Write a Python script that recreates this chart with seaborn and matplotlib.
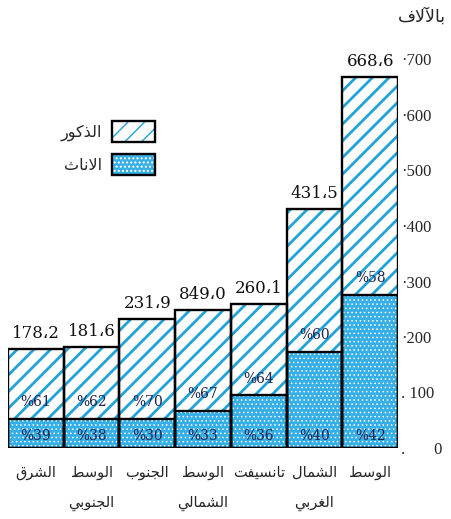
import numpy as np
import pandas as pd
import matplotlib
matplotlib.use("Agg")
import matplotlib.pyplot as plt
import seaborn as sns
from matplotlib.patches import Patch
from matplotlib.legend_handler import HandlerTuple

# ---------------- data ----------------
regions = ["الشرق", "الوسط\nالجنوبي", "الجنوب", "الوسط\nالشمالي", "تانسيفت", "الشمال\nالغربي", "الوسط"]
totals = [178.2, 181.6, 231.9, 249.0, 260.1, 431.5, 668.6]
total_labels = ["178،2", "181،6", "231،9", "849،0", "260،1", "431،5", "668،6"]
females = [52, 52, 52, 67, 95, 173, 276]
male_pct = ["%61", "%62", "%70", "%67", "%64", "%60", "%58"]
female_pct = ["%39", "%38", "%30", "%33", "%36", "%40", "%42"]
yticks = [0, 100, 200, 300, 400, 500, 600, 700]
ytick_labels = [".       0", ". 100", "·200", "·300", "·400", "·500", "·600", "·700"]
legend_labels = ["الذكور", "الاناث"]
unit_label = "بالآلاف"

# ---------------- minimal Arabic shaping (presentation forms) ----------------
FORMS = {
    "\u0627": ("\uFE8D", "\uFE8E", None, None),
    "\u0622": ("\uFE81", "\uFE82", None, None),
    "\u0628": ("\uFE8F", "\uFE90", "\uFE91", "\uFE92"),
    "\u062A": ("\uFE95", "\uFE96", "\uFE97", "\uFE98"),
    "\u062B": ("\uFE99", "\uFE9A", "\uFE9B", "\uFE9C"),
    "\u062C": ("\uFE9D", "\uFE9E", "\uFE9F", "\uFEA0"),
    "\u062D": ("\uFEA1", "\uFEA2", "\uFEA3", "\uFEA4"),
    "\u062F": ("\uFEA9", "\uFEAA", None, None),
    "\u0630": ("\uFEAB", "\uFEAC", None, None),
    "\u0631": ("\uFEAD", "\uFEAE", None, None),
    "\u0632": ("\uFEAF", "\uFEB0", None, None),
    "\u0633": ("\uFEB1", "\uFEB2", "\uFEB3", "\uFEB4"),
    "\u0634": ("\uFEB5", "\uFEB6", "\uFEB7", "\uFEB8"),
    "\u0637": ("\uFEC1", "\uFEC2", "\uFEC3", "\uFEC4"),
    "\u0639": ("\uFEC9", "\uFECA", "\uFECB", "\uFECC"),
    "\u063A": ("\uFECD", "\uFECE", "\uFECF", "\uFED0"),
    "\u0641": ("\uFED1", "\uFED2", "\uFED3", "\uFED4"),
    "\u0642": ("\uFED5", "\uFED6", "\uFED7", "\uFED8"),
    "\u0643": ("\uFED9", "\uFEDA", "\uFEDB", "\uFEDC"),
    "\u0644": ("\uFEDD", "\uFEDE", "\uFEDF", "\uFEE0"),
    "\u0645": ("\uFEE1", "\uFEE2", "\uFEE3", "\uFEE4"),
    "\u0646": ("\uFEE5", "\uFEE6", "\uFEE7", "\uFEE8"),
    "\u0647": ("\uFEE9", "\uFEEA", "\uFEEB", "\uFEEC"),
    "\u0648": ("\uFEED", "\uFEEE", None, None),
    "\u064A": ("\uFEF1", "\uFEF2", "\uFEF3", "\uFEF4"),
}
LAM_ALEF = {"\u0627": ("\uFEFB", "\uFEFC"), "\u0622": ("\uFEF5", "\uFEF6")}


def _joins_next(c):
    return c in FORMS and FORMS[c][2] is not None


def shape_line(text):
    out = []
    n = len(text)
    i = 0
    while i < n:
        c = text[i]
        if c not in FORMS:
            out.append(c)
            i += 1
            continue
        prev = text[i - 1] if i > 0 else None
        cp = prev is not None and _joins_next(prev)
        if c == "\u0644" and i + 1 < n and text[i + 1] in LAM_ALEF:
            out.append(LAM_ALEF[text[i + 1]][1 if cp else 0])
            i += 2
            continue
        nxt = text[i + 1] if i + 1 < n else None
        cn = _joins_next(c) and nxt in FORMS
        iso, fin, ini, med = FORMS[c]
        out.append(med if (cp and cn) else fin if cp else ini if cn else iso)
        i += 1
    return "".join(reversed(out))


def shape(text):
    return "\n".join(shape_line(t) for t in text.split("\n"))


# ---------------- figure ----------------
W, H = 451, 519
STRIPE = "#22a3d8"
FEMALE = "#36aee6"
NAVY = "#1b2350"
AR_FONT = ["DejaVu Sans"]
NUM_FONT = ["DejaVu Serif", "DejaVu Sans"]

sns.set_style("white")
fig = plt.figure(figsize=(W / 100, H / 100), dpi=100)
base_px, top_px = 448, 59.5
ax = fig.add_axes([8 / W, (H - base_px) / H, 390 / W, (base_px - top_px) / H])

df = pd.DataFrame({"region": regions, "total": totals, "female": females})

with plt.rc_context({"hatch.linewidth": 2.0}):
    sns.barplot(data=df, x="region", y="total", color="white", width=1, saturation=1,
                edgecolor=STRIPE, linewidth=0, hatch="//", errorbar=None, ax=ax)
with plt.rc_context({"hatch.linewidth": 0.6}):
    sns.barplot(data=df, x="region", y="female", color=FEMALE, width=1, saturation=1,
                edgecolor="white", linewidth=0, hatch="....", errorbar=None, ax=ax)
sns.barplot(data=df, x="region", y="total", fill=False, width=1,
            edgecolor="black", linewidth=1.7, errorbar=None, ax=ax)
sns.barplot(data=df, x="region", y="female", fill=False, width=1,
            edgecolor="black", linewidth=1.7, errorbar=None, ax=ax)

ax.set_xlim(-0.5, len(regions) - 0.5)
ax.set_ylim(0, 700)
for s in ax.spines.values():
    s.set_visible(False)

# y ticks on the right
ax.yaxis.tick_right()
ax.set_yticks(yticks)
ax.set_yticklabels(ytick_labels, fontfamily=["Liberation Serif"], fontsize=12)
ax.tick_params(axis="y", length=0, pad=2)

# x tick labels (Arabic)
ax.set_xticks(range(len(regions)))
ax.set_xticklabels([shape(r) for r in regions], fontfamily=AR_FONT, fontsize=10.5,
                   linespacing=2.25)
ax.tick_params(axis="x", length=0, pad=12)
ax.set_xlabel("")
ax.set_ylabel("")

# total labels
for i, (t, lab) in enumerate(zip(totals, total_labels)):
    ax.annotate(lab, (i, t), xytext=(0, 5), textcoords="offset points", ha="center",
                va="bottom", fontsize=12, family=NUM_FONT, color="#111111")

# percentage labels
for i, (f, mp, fp) in enumerate(zip(females, male_pct, female_pct)):
    ax.annotate(mp, (i, f), xytext=(0, 12), textcoords="offset points", ha="center",
                va="center", fontsize=10, family=NUM_FONT, color=NAVY)
    ax.annotate(fp, (i, 0), xytext=(0, 9), textcoords="offset points", ha="center",
                va="center", fontsize=10, family=NUM_FONT, color=NAVY)

# legend (text left of the boxes)
h_m = (Patch(facecolor="white", edgecolor=STRIPE, hatch="//", linewidth=0),
       Patch(fill=False, edgecolor="black", linewidth=1.7))
h_f = (Patch(facecolor=FEMALE, edgecolor="white", hatch="....", linewidth=0),
       Patch(fill=False, edgecolor="black", linewidth=1.7))
ax.legend([h_m, h_f], [shape(l) for l in legend_labels],
          handler_map={tuple: HandlerTuple(ndivide=1)}, markerfirst=False,
          frameon=False, loc="upper right", bbox_to_anchor=(163 / W, 1 - 113 / H),
          bbox_transform=fig.transFigure, borderpad=0, handlelength=2.7,
          handleheight=1.6, labelspacing=0.8, handletextpad=0.6,
          prop={"family": AR_FONT, "size": 11.5})

fig.text(446 / W, 1 - 17 / H, shape(unit_label), ha="right", va="center",
         fontsize=12.5, family=AR_FONT)

fig.savefig("out.png", dpi=100)
